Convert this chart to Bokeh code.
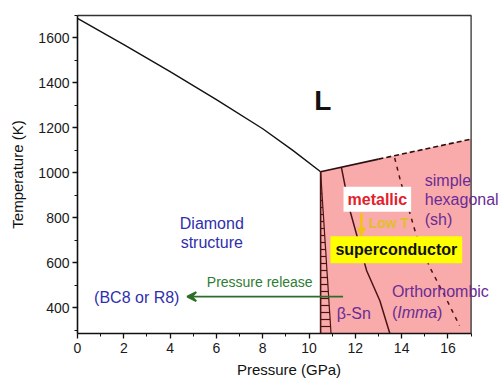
from bokeh.plotting import figure
from bokeh.models import Range1d, Label, Arrow, VeeHead, NormalHead, FixedTicker, LinearAxis, Span
from bokeh.embed import file_html
from bokeh.resources import INLINE

# ---- data ----
melt_p = [0, 2, 4, 6, 8, 9.3, 10.5]
melt_t = [1687, 1570, 1450, 1326, 1196, 1100, 1005]

top_solid_p = [10.5, 13.0]
top_solid_t = [1005, 1061]
top_dash_p = [13.0, 17.0]
top_dash_t = [1061, 1150]

pink_p = [10.5, 10.5, 13.0, 17.0, 17.0]
pink_t = [200, 1005, 1061, 1150, 200]

dia_p = [10.5, 10.5]
dia_t = [200, 1005]

hatch_p = [10.5, 10.5, 10.95]
hatch_t = [285, 1005, 285]
hatch_edge_p = [10.5, 10.95]
hatch_edge_t = [1005, 285]

bsn_p = [11.40, 11.77, 12.49, 13.06, 13.49]
bsn_t = [1023, 831, 564, 431, 285]

sh_p = [13.70, 13.95, 14.64, 15.22, 15.93, 16.50]
sh_t = [1066, 964, 720, 579, 439, 320]

x_max = 17
x_ticks = [0, 2, 4, 6, 8, 10, 12, 14, 16]
x_minor = list(range(0, 18))
y_ticks = [400, 600, 800, 1000, 1200, 1400, 1600]
y_minor = list(range(300, 1701, 100))

FONT = "Liberation Sans"
BLUE = "#2f2fae"
PURPLE = "#6a2c95"
DARK = "#4a1414"

p = figure(width=500, height=380, x_range=Range1d(0, 18.27), y_range=Range1d(285, 1700),
           output_backend="svg", toolbar_location=None,
           min_border_left=77, min_border_right=0, min_border_top=15, min_border_bottom=47)
p.grid.visible = False
p.outline_line_color = None
p.background_fill_color = "white"
p.border_fill_color = "white"

# regions
p.patch(pink_p, pink_t, fill_color="#f9aaaa", line_color=None)
p.patch(hatch_p, hatch_t, fill_alpha=0, line_color=None,
        hatch_pattern="horizontal_line", hatch_color=DARK, hatch_scale=7, hatch_weight=1.2)

# boundaries
p.line(melt_p, melt_t, line_color="#111111", line_width=1.4)
p.line(top_solid_p, top_solid_t, line_color="#2a1010", line_width=1.6)
p.line(top_dash_p, top_dash_t, line_color="#2a1010", line_width=1.6, line_dash="5 3")
p.line(dia_p, dia_t, line_color=DARK, line_width=1.6)
p.line(hatch_edge_p, hatch_edge_t, line_color=DARK, line_width=1.2)
p.line(bsn_p, bsn_t, line_color=DARK, line_width=1.5)
p.line(sh_p, sh_t, line_color=DARK, line_width=1.5, line_dash="4 5")

# right frame edge at x = 17
p.add_layout(Span(location=x_max, dimension="height", line_color="#333333", line_width=1.3))

# arrows
p.add_layout(Arrow(end=VeeHead(size=9, line_color="#2a6e2a", line_width=2, fill_color="#2a6e2a"),
                   x_start=11.47, y_start=449, x_end=4.74, y_end=449,
                   line_color="#2a6e2a", line_width=1.6))
p.add_layout(Arrow(end=NormalHead(size=8, fill_color="#f2c21b", line_color="#f2c21b"),
                   x_start=12.26, y_start=820, x_end=12.26, y_end=718,
                   line_color="#f2c21b", line_width=3))

def lab(x, y, text, color, size, align="left", bold=False, italic=False, **kw):
    style = "normal"
    if bold and italic:
        style = "bold italic"
    elif bold:
        style = "bold"
    elif italic:
        style = "italic"
    p.add_layout(Label(x=x, y=y, text=text, text_color=color, text_font=FONT,
                       text_font_size=f"{size}px", text_font_style=style,
                       text_align=align, text_baseline="middle", **kw))

lab(10.6, 1320, "L", "#111111", 28, align="center", bold=True)
lab(5.8, 773, "Diamond", BLUE, 16, align="center")
lab(5.8, 689, "structure", BLUE, 16, align="center")
lab(2.56, 444, "(BC8 or R8)", BLUE, 16, align="center")
lab(7.87, 516, "Pressure release", "#2e7d32", 14, align="center")
lab(12.95, 882, "metallic", "#e3212b", 16, align="center", bold=True,
    background_fill_color="white", padding=4)
lab(13.45, 776, "Low T", "#e3bd2e", 14, align="center", bold=True)
lab(13.77, 658, "superconductor", "#111111", 16, align="center", bold=True,
    background_fill_color="#ffff00", padding=5)
lab(15.0, 964, "simple", PURPLE, 16)
lab(15.0, 880, "hexagonal", PURPLE, 16)
lab(15.0, 791, "(sh)", PURPLE, 16)
lab(13.58, 471, "Orthorhombic", PURPLE, 16)
lab(13.58, 378, "(", PURPLE, 16)
lab(13.81, 378, "Imma", PURPLE, 16, italic=True)
lab(15.53, 378, ")", PURPLE, 16)
lab(11.2, 373, "β-Sn", PURPLE, 16)

# top frame line as a bare axis
top = LinearAxis(ticker=FixedTicker(ticks=[]), major_label_text_font_size="0px",
                 major_tick_line_color=None, minor_tick_line_color=None,
                 axis_line_color="#333333", axis_line_width=1.3, bounds=(0, x_max))
p.add_layout(top, "above")

xa = p.below[0]
ya = p.left[0]

# axes
for ax in (xa, ya):
    ax.axis_line_color = "#111111"
    ax.axis_line_width = 1.6
    ax.major_tick_line_color = "#111111"
    ax.minor_tick_line_color = "#111111"
    ax.major_tick_line_width = 1.3
    ax.major_tick_in = 0
    ax.major_tick_out = 5
    ax.minor_tick_in = 0
    ax.minor_tick_out = 3
    ax.major_label_text_font = FONT
    ax.major_label_text_font_size = "14px"
    ax.major_label_text_color = "#1a1a1a"
    ax.axis_label_text_font = FONT
    ax.axis_label_text_font_size = "15px"
    ax.axis_label_text_font_style = "normal"
    ax.axis_label_text_color = "#111111"

xa.bounds = (0, x_max)
xa.ticker = FixedTicker(ticks=x_ticks, minor_ticks=x_minor)
xa.axis_label = "Pressure (GPa)"
xa.major_label_standoff = 4
xa.axis_label_standoff = 5

ya.ticker = FixedTicker(ticks=y_ticks, minor_ticks=y_minor)
ya.axis_label = "Temperature (K)"
ya.major_label_standoff = 3
ya.axis_label_standoff = 9

open("out.html", "w").write(file_html(p, INLINE))
